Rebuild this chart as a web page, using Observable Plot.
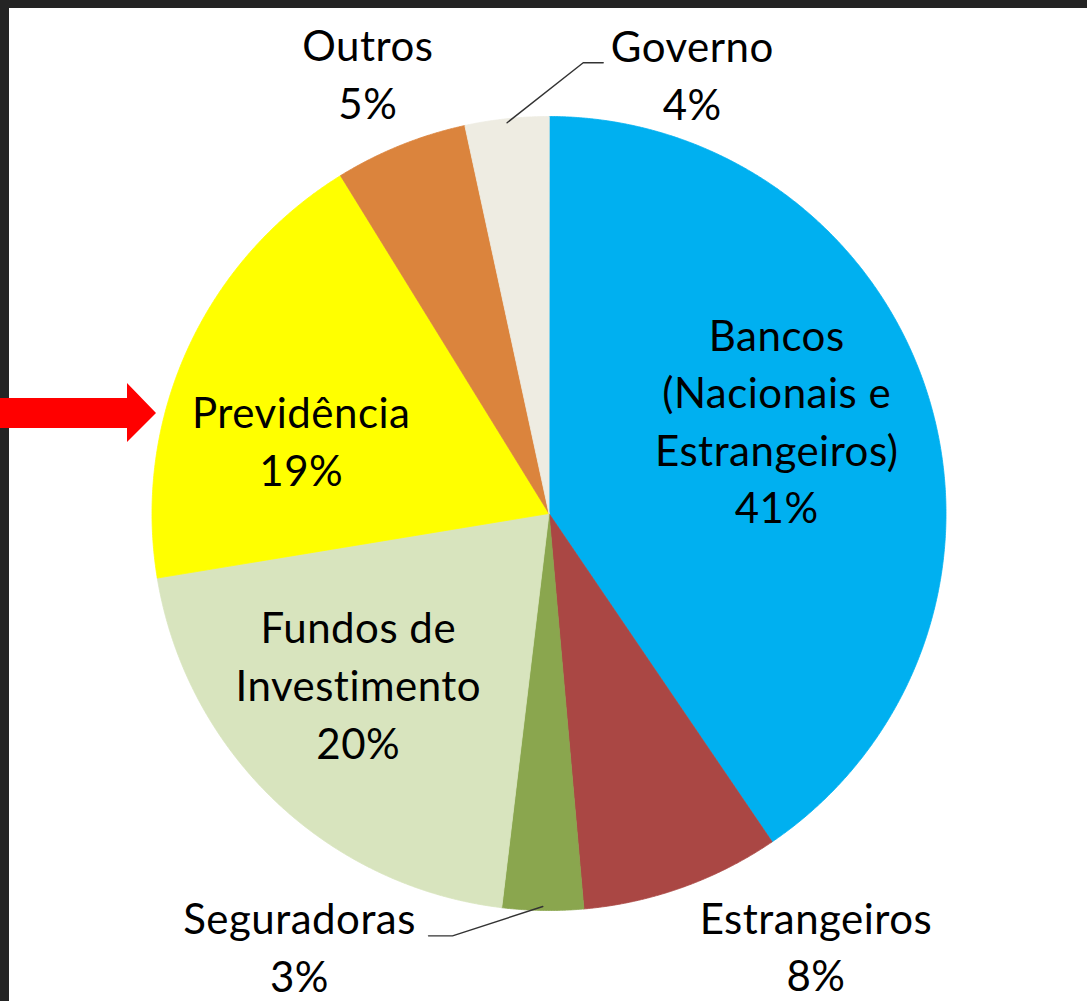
<!DOCTYPE html>
<html><head><meta charset="utf-8">
<script src="https://cdn.jsdelivr.net/npm/d3@7"></script>
<script src="https://cdn.jsdelivr.net/npm/@observablehq/plot@0.6"></script>
<style>
html,body{margin:0;padding:0;background:#242424;width:1087px;height:1001px;overflow:hidden;}
#paper{position:absolute;left:9px;top:8px;width:1078px;height:993px;background:#fff;}
#chart{position:absolute;left:0;top:0;}
#arrow{position:absolute;left:0;top:0;}
</style></head><body>
<div id="paper"></div>
<div id="chart"></div>
<svg id="arrow" width="170" height="460"><polygon points="0,398 127,398 127,383 156,413 127,442 127,428 0,428" fill="#ff0000"/></svg>
<script>
// ---- data ----
const categories = ["Bancos\n(Nacionais e\nEstrangeiros)", "Estrangeiros", "Seguradoras", "Fundos de\nInvestimento", "Previdência", "Outros", "Governo"];
const shares = [40.5, 8.1, 3.3, 20.5, 18.8, 5.4, 3.4];
const pctLabels = ["41%", "8%", "3%", "20%", "19%", "5%", "4%"];

// ---- style / layout ----
const colors = ["#00B0F0", "#AA4744", "#8AA64E", "#D8E4BE", "#FFFF00", "#DB843D", "#EEECE2"];
const W = 1087, H = 1001, CX = 548.5, CY = 513, R = 397;
const labelLayout = [
  {r: 0.6, dx: 0, dy: -25},
  {r: 1.2, dx: 107, dy: -18},
  {r: 1.2, dx: -242, dy: -45},
  {r: 0.6, dx: -26, dy: -3},
  {r: 0.6, dx: -31, dy: 24},
  {r: 1.2, dx: -3, dy: 0},
  {r: 1.2, dx: 194, dy: 33}
];
const leaders = [
  {i: 6, pts: [[-109, -10], [-89, -10]]},
  {i: 2, pts: [[153, -9], [129, -9]]}
];

const arcs = d3.pie().sort(null).value(d => d)(shares);

// slice polygons
const slicePts = [];
arcs.forEach((a, i) => {
  const name = categories[i];
  slicePts.push({name, x: 0, y: 0});
  const n = Math.max(2, Math.ceil((a.endAngle - a.startAngle) / 0.004));
  for (let k = 0; k <= n; k++) {
    const t = a.startAngle + (a.endAngle - a.startAngle) * k / n;
    slicePts.push({name, x: Math.sin(t), y: Math.cos(t)});
  }
});

// labels
const labels = arcs.map((a, i) => {
  const m = (a.startAngle + a.endAngle) / 2;
  const L = labelLayout[i];
  return {
    text: categories[i] + "\n" + pctLabels[i],
    x: L.r * Math.sin(m) + L.dx / R,
    y: L.r * Math.cos(m) - L.dy / R
  };
});

// leader lines
const leaderPts = [];
leaders.forEach(({i, pts}) => {
  const a = arcs[i];
  const m = (a.startAngle + a.endAngle) / 2;
  leaderPts.push({k: i, x: 0.99 * Math.sin(m), y: 0.99 * Math.cos(m)});
  pts.forEach(([px, py]) => leaderPts.push({k: i, x: labels[i].x + px / R, y: labels[i].y - py / R}));
});

const chart = Plot.plot({
  width: W, height: H, margin: 0,
  x: {domain: [-1, 1], range: [CX - R, CX + R], axis: null},
  y: {domain: [-1, 1], range: [CY + R, CY - R], axis: null},
  color: {type: "ordinal", domain: categories, range: colors},
  style: {background: "transparent", fontFamily: "Lato", overflow: "visible"},
  marks: [
    Plot.line(slicePts, {x: "x", y: "y", z: "name", fill: "name", stroke: "name", strokeWidth: 0.8, curve: "linear-closed"}),
    Plot.line(leaderPts, {x: "x", y: "y", z: "k", stroke: "#333", strokeWidth: 1.4}),
    Plot.text(labels, {x: "x", y: "y", text: "text", fontSize: 42, lineHeight: 1.37, lineAnchor: "middle", fill: "#000", fontFamily: "Lato", style: "letter-spacing:0.5px"})
  ]
});
chart.querySelectorAll("text").forEach(t => t.style.letterSpacing = "0.5px");
document.getElementById("chart").appendChild(chart);
</script>
</body></html>
